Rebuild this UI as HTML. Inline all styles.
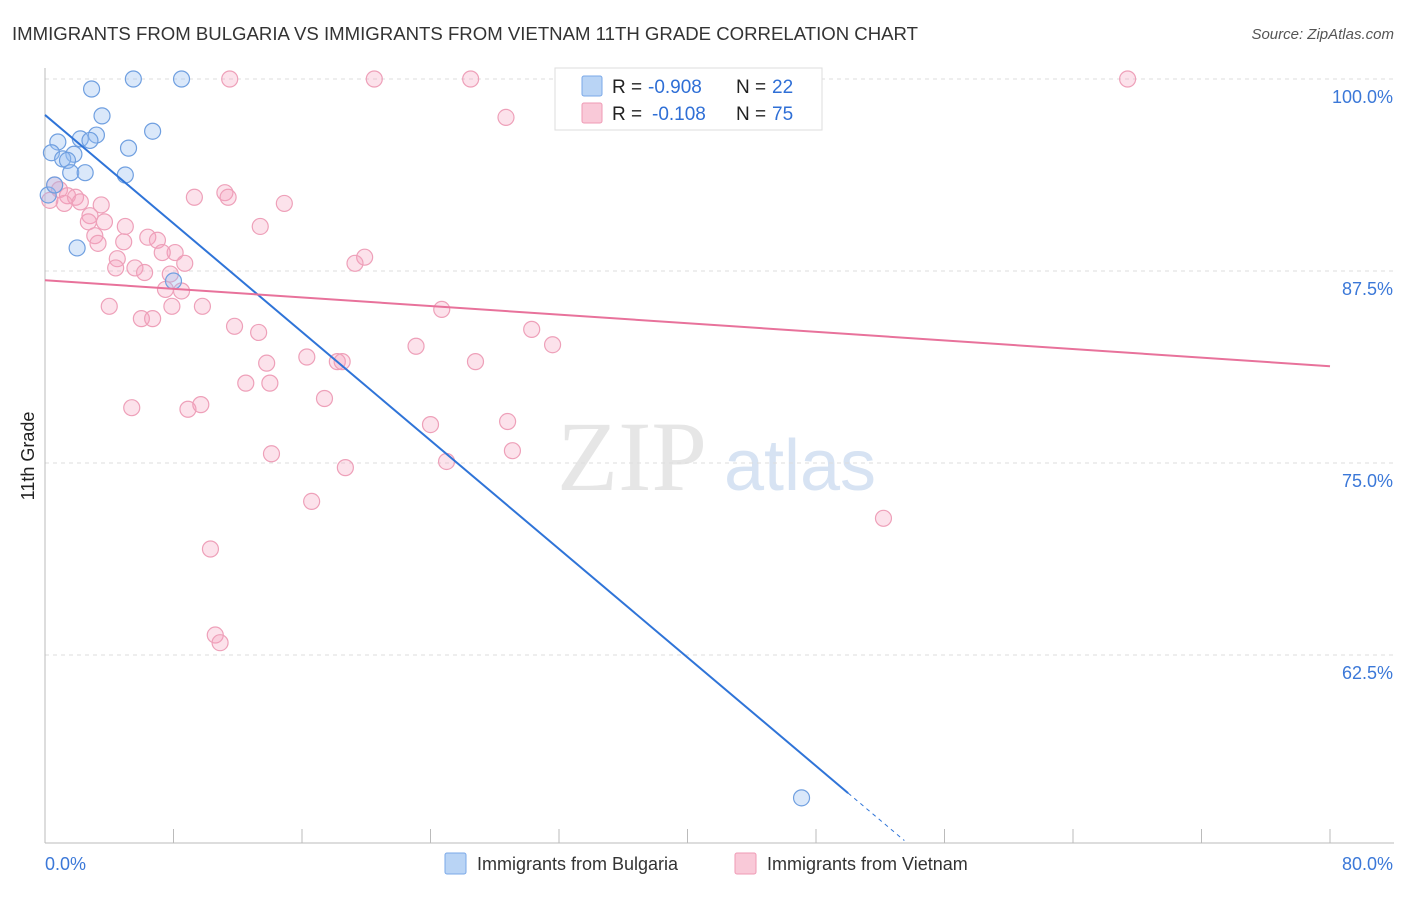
<!DOCTYPE html>
<html><head><meta charset="utf-8">
<style>
body{margin:0;background:#fff;font-family:"Liberation Sans",sans-serif;}
svg text{font-family:"Liberation Sans",sans-serif;}
</style></head>
<body>
<svg id="chart" width="1406" height="892" viewBox="0 0 1406 892">
<text x="12" y="40" font-size="18.6" fill="#333">IMMIGRANTS FROM BULGARIA VS IMMIGRANTS FROM VIETNAM 11TH GRADE CORRELATION CHART</text>
<text x="1394" y="39" font-size="15" fill="#555" text-anchor="end" font-style="italic">Source: ZipAtlas.com</text>
<text transform="translate(34,456) rotate(-90)" font-size="18" fill="#222" text-anchor="middle">11th Grade</text>
<g>
<text x="632" y="490" font-size="100" fill="#e6e6e6" text-anchor="middle" font-family="Liberation Serif" style="font-family:'Liberation Serif',serif">ZIP</text>
<text x="800" y="490" font-size="72" fill="#d7e3f3" text-anchor="middle">atlas</text>
</g>
<g id="grid"></g>
<g id="axes"></g>
<g id="pts"></g>
<g id="lines"></g>
<g>
<rect x="555" y="68" width="267" height="62" fill="#fff" stroke="#ddd"/>
<rect x="582" y="76" width="20" height="20" fill="#b9d4f5" stroke="#7aa8e8" rx="2"/>
<rect x="582" y="103" width="20" height="20" fill="#f9c9d8" stroke="#ef9ab5" rx="2"/>
<text x="612" y="93" font-size="19" fill="#222">R =</text>
<text x="648" y="93" font-size="19" fill="#2f6fd6">-0.908</text>
<text x="736" y="93" font-size="19" fill="#222">N =</text>
<text x="772" y="93" font-size="19" fill="#2f6fd6">22</text>
<text x="612" y="120" font-size="19" fill="#222">R =</text>
<text x="652" y="120" font-size="19" fill="#2f6fd6">-0.108</text>
<text x="736" y="120" font-size="19" fill="#222">N =</text>
<text x="772" y="120" font-size="19" fill="#2f6fd6">75</text>
</g>
<g>
<rect x="445" y="853" width="21" height="21" fill="#b9d4f5" stroke="#7aa8e8" rx="2"/>
<text x="477" y="870" font-size="18" fill="#333">Immigrants from Bulgaria</text>
<rect x="735" y="853" width="21" height="21" fill="#f9c9d8" stroke="#ef9ab5" rx="2"/>
<text x="767" y="870" font-size="18" fill="#333">Immigrants from Vietnam</text>
</g>
</svg>
<script>
const blueX=[5.5,8.5,2.9,3.55,6.7,3.2,0.8,2.2,2.8,5.2,0.4,1.8,1.1,1.4,5.0,1.6,2.5,2.0,8.0,47.1,0.2,0.6];
const blueY=[100,100,99.35,97.6,96.6,96.35,95.9,96.1,96.0,95.5,95.2,95.1,94.8,94.7,93.75,93.9,93.9,89.0,86.85,53.2,92.45,93.1];
const pinkX=[11.5,20.5,26.5,43.3,67.4,28.7,0.6,0.9,1.4,1.9,0.3,1.2,2.2,2.8,2.7,3.5,3.7,3.1,3.3,5.0,4.9,9.3,11.2,11.4,14.9,13.4,6.4,7.0,8.1,7.3,4.5,5.6,4.4,6.2,8.7,7.8,7.5,8.5,4.0,7.9,9.8,6.0,6.7,11.8,13.3,19.9,19.3,24.7,30.3,31.6,23.1,26.8,16.3,18.2,18.5,13.8,12.5,14.0,5.4,8.9,9.7,17.4,24.0,28.8,29.1,14.1,18.7,25.0,16.6,52.2,10.3,10.6,10.9];
const pinkY=[100,100,100,100,100,97.5,93.1,92.8,92.4,92.3,92.1,91.9,92.0,91.1,90.7,91.8,90.7,89.8,89.3,90.4,89.4,92.3,92.6,92.3,91.9,90.4,89.7,89.5,88.7,88.7,88.3,87.7,87.7,87.4,88.0,87.3,86.3,86.2,85.2,85.2,85.2,84.4,84.4,83.9,83.5,88.4,88.0,85.0,83.7,82.7,82.6,81.6,81.9,81.6,81.6,81.5,80.2,80.2,78.6,78.5,78.8,79.2,77.5,77.7,75.8,75.6,74.7,75.1,72.5,71.4,69.4,63.8,63.3];
const yTicks=[100,87.5,75,62.5];
const yTickLabels=["100.0%","87.5%","75.0%","62.5%"];
const xTicks=[0,8,16,24,32,40,48,56,64,72,80];
const blueFit=[97.66,-0.883];
const pinkFit=[86.9,-0.07];
const NS="http://www.w3.org/2000/svg";
const sx=v=>45+v*1285/80;
const sy=v=>79+(100-v)*192/12.5;
function mk(p,t,a){const e=document.createElementNS(NS,t);for(const k in a)e.setAttribute(k,a[k]);document.getElementById(p).appendChild(e);return e;}
yTicks.forEach((t,i)=>{
 const l=mk('grid','line',{x1:45,x2:1394,y1:sy(t),y2:sy(t),stroke:'#ddd','stroke-dasharray':'4,4'});
 
 
 const tx=mk('grid','text',{x:1393,y:sy(t)+24,'font-size':18,fill:'#3b78d8','text-anchor':'end'});
 tx.textContent=yTickLabels[i];
 
 
});
const ya=mk('axes','line',{x1:45,x2:45,y1:68,y2:843,stroke:'#bbb'});


const xa=mk('axes','line',{x1:45,x2:1394,y1:843,y2:843,stroke:'#bbb'});


xTicks.forEach(t=>{
 const l=mk('axes','line',{x1:sx(t),x2:sx(t),y1:829,y2:843,stroke:'#bbb'});
 
 
});
const x0=mk('axes','text',{x:45,y:870,'font-size':18,fill:'#3b78d8'});x0.textContent='0.0%';


const x1=mk('axes','text',{x:1393,y:870,'font-size':18,fill:'#3b78d8','text-anchor':'end'});x1.textContent='80.0%';


pinkX.forEach((x,i)=>{
 const c=mk('pts','circle',{cx:sx(x),cy:sy(pinkY[i]),r:8,fill:'rgba(244,160,188,0.3)',stroke:'#eea0b9','stroke-width':1.2});
 
 
});
blueX.forEach((x,i)=>{
 const c=mk('pts','circle',{cx:sx(x),cy:sy(blueY[i]),r:8,fill:'rgba(150,190,240,0.35)',stroke:'#6f9fe0','stroke-width':1.2});
 
 
});
const bl=mk('lines','line',{x1:sx(0),y1:sy(blueFit[0]),x2:sx(50),y2:sy(blueFit[0]+blueFit[1]*50),stroke:'#2f74d8','stroke-width':2});


const bd=mk('lines','line',{x1:sx(50),y1:sy(blueFit[0]+blueFit[1]*50),x2:sx(53.5),y2:sy(blueFit[0]+blueFit[1]*53.5),stroke:'#2f74d8','stroke-width':1,'stroke-dasharray':'4,4'});


const pl=mk('lines','line',{x1:sx(0),y1:sy(pinkFit[0]),x2:sx(80),y2:sy(pinkFit[0]+pinkFit[1]*80),stroke:'#e8729b','stroke-width':2});


</script>
</body></html>
